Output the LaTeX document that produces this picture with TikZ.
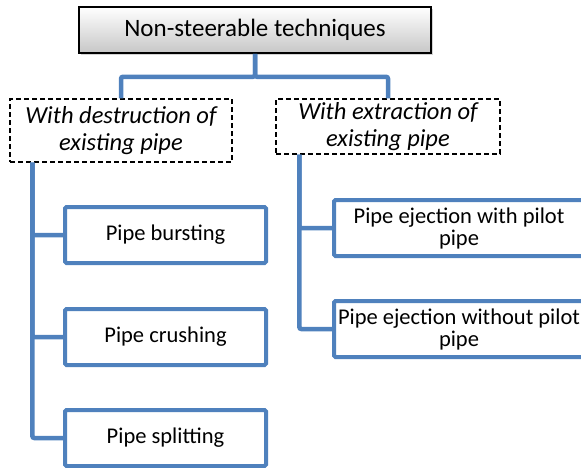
\documentclass[tikz,border=0pt]{standalone}
\usepackage{fontspec}
\setmainfont{Carlito}
\usetikzlibrary{shadows}
\definecolor{treeblue}{HTML}{4F81BD}
\begin{document}
\begin{tikzpicture}[x=1pt,y=-1pt,
    root/.style={draw=black,line width=1.5pt,top color=white,bottom color=black!22,
      drop shadow={opacity=0.35,shadow xshift=2pt,shadow yshift=-2pt},
      minimum width=352pt,minimum height=46pt,font=\fontsize{25}{27}\selectfont},
    group/.style={draw=black,line width=1.3pt,dash pattern=on 5pt off 3pt,align=center,
      inner sep=1pt,font=\fontsize{24.5}{27}\selectfont\itshape},
    leaf/.style={draw=treeblue,line width=4pt,rounded corners=1.5pt,fill=white,align=center,
      inner sep=1pt,minimum height=56pt,font=\fontsize{22.5}{22}\selectfont},
    link/.style={draw=treeblue,line width=4.5pt,rounded corners=2pt}]
  \useasboundingbox (0,0) rectangle (581,467);
  \draw
    (255,30) node[root] (root) {Non-steerable techniques}
    (121,130.5) node[group,minimum width=222pt,minimum height=63pt] (destr) {With destruction of\\existing pipe}
    (388,126.5) node[group,minimum width=224pt,minimum height=55pt] (extr) {With extraction of\\existing pipe}
    (165.5,235) node[leaf,minimum width=201pt] (burst) {Pipe bursting}
    (165.5,337) node[leaf,minimum width=201pt] (crush) {Pipe crushing}
    (165.5,438) node[leaf,minimum width=201pt] (split) {Pipe splitting}
    (459,228) node[leaf,minimum width=250pt] (ejwith) {Pipe ejection with pilot\\pipe}
    (459,329) node[leaf,minimum width=250pt] (ejwout) {Pipe ejection without pilot\\pipe};
  \begin{scope}[link]
    \draw (root.south) -- ++(0,23) -| (destr.north);
    \draw (root.south) -- ++(0,23) -| (extr.north);
    \draw ([xshift=23pt]destr.south west) |- (burst.west);
    \draw ([xshift=23pt]destr.south west) |- (crush.west);
    \draw ([xshift=23pt]destr.south west) |- (split.west);
    \draw ([xshift=24pt]extr.south west) |- (ejwith.west);
    \draw ([xshift=24pt]extr.south west) |- (ejwout.west);
  \end{scope}
\end{tikzpicture}
\end{document}
